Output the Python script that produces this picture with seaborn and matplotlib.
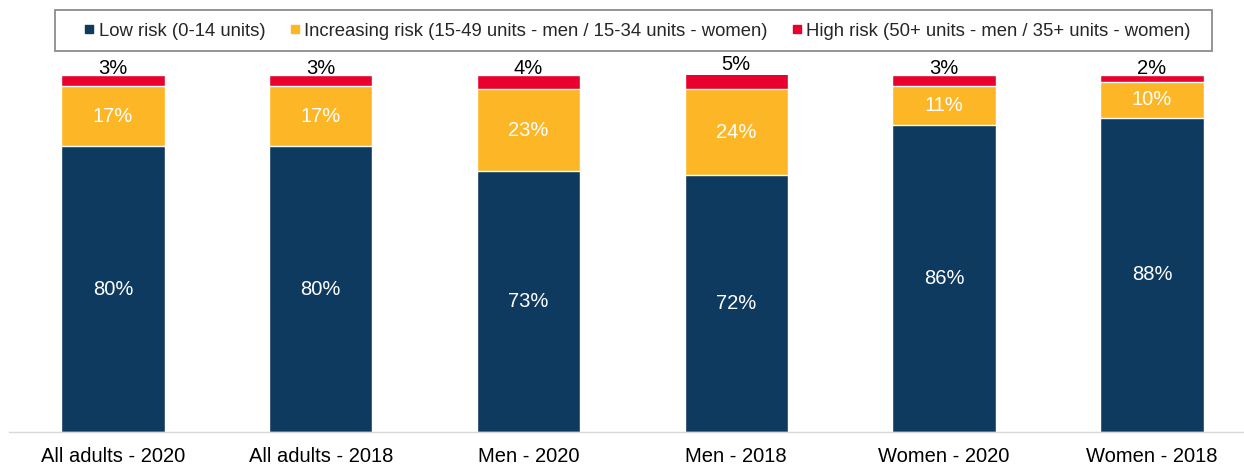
import matplotlib
matplotlib.use("Agg")
import matplotlib.pyplot as plt
import seaborn as sns
import pandas as pd
import numpy as np
from matplotlib.lines import Line2D
from matplotlib.patches import Rectangle

categories = ["All adults - 2020", "All adults - 2018", "Men - 2020",
              "Men - 2018", "Women - 2020", "Women - 2018"]
low_risk = [80, 80, 73, 72, 86, 88]
increasing_risk = [17, 17, 23, 24, 11, 10]
high_risk = [3, 3, 4, 5, 3, 2]
series_names = ["Low risk (0-14 units)",
                "Increasing risk (15-49 units - men / 15-34 units - women)",
                "High risk (50+ units - men / 35+ units - women)"]

C_LOW = "#0E3A60"
C_INC = "#FDB726"
C_HIGH = "#E8002F"

sns.set_style("white")
plt.rcParams["font.family"] = ["Liberation Sans", "DejaVu Sans"]

low = np.array(low_risk, float)
inc = np.array(increasing_risk, float)
high = np.array(high_risk, float)
cum_inc = low + inc
cum_all = cum_inc + high

df = pd.DataFrame({"cat": categories, "low": low, "cum_inc": cum_inc, "cum_all": cum_all})

fig = plt.figure(figsize=(12.44, 4.66), dpi=100)
W, H = 1244, 466
left = 9 / W
right_px = 1244
ax = fig.add_axes([left, 1 - 432 / H, (right_px - 9) / W, (432 - 75) / H])

for col, c in [("cum_all", C_HIGH), ("cum_inc", C_INC), ("low", C_LOW)]:
    sns.barplot(data=df, x="cat", y=col, color=c, saturation=1, width=0.497,
                edgecolor="white", linewidth=1.0, ax=ax, order=categories)

spacing = 207.8
xmax = (right_px - 9) / spacing - 0.5
ax.set_xlim(-0.5, xmax)
ax.set_ylim(0, 100)

fs = 14.5
for i in range(len(categories)):
    ax.text(i, low[i] / 2, f"{low_risk[i]}%", ha="center", va="center", color="white", fontsize=fs)
    ax.text(i, low[i] + inc[i] / 2, f"{increasing_risk[i]}%", ha="center", va="center", color="white", fontsize=fs)
    ax.text(i, cum_all[i] + 0.3, f"{high_risk[i]}%", ha="center", va="baseline", color="black", fontsize=fs)

ax.set_xlabel("")
ax.set_ylabel("")
ax.set_yticks([])
ax.tick_params(axis="x", length=0, labelsize=fs, pad=11, colors="black")
for s in ["top", "right", "left"]:
    ax.spines[s].set_visible(False)
ax.spines["bottom"].set_color("#D9D9D9")
ax.spines["bottom"].set_linewidth(1)

handles = [Line2D([0], [0], marker="s", linestyle="none", markersize=5.2, markerfacecolor=c, markeredgecolor=c)
           for c in [C_LOW, C_INC, C_HIGH]]
leg = fig.legend(handles, series_names, ncol=3, loc="center",
                 bbox_to_anchor=(636.5 / W, 1 - 31 / H), fontsize=13.3, frameon=False,
                 handletextpad=0.1, columnspacing=1.2, handlelength=0.8, borderpad=0.3)
fig.patches.append(Rectangle((55 / W, 1 - 51 / H), (1212 - 55) / W, 41 / H, fill=False,
                             edgecolor="#8C8C8C", linewidth=1.3, transform=fig.transFigure, figure=fig))

fig.savefig("out.png", dpi=100)
